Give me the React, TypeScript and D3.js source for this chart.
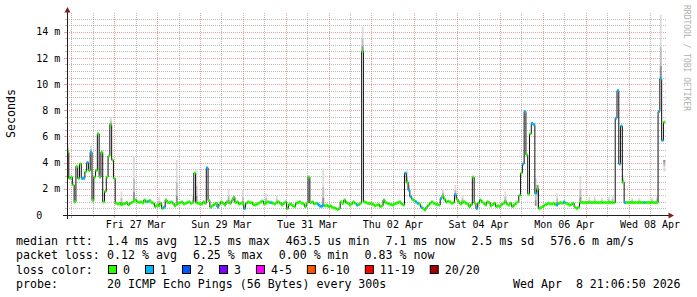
import React from "react";
import * as d3 from "d3";

// ---------- data ----------
const START = Date.UTC(2026, 2, 25, 21, 30);
const END = Date.UTC(2026, 3, 8, 21, 30);
const HOUR = 3600 * 1000;

// hourly median RTT in ms (one line per day, starting Mar 25 21:30)
const medianMs: (number | null)[] = [
  4.8, 2.8, 2.9, 2.3, 1.0, 3.7, 2.8, 3.9, 2.8, 2.8, 3.3, 4.0, 3.4, 4.8, 1.1, 2.9, 3.4, 6.2, 2.9, 4.8, 1.0, 1.8, 2.9, 4.5,
  6.9, 4.2, 2.8, 0.9, 0.84, 0.9, 0.78, 0.85, 0.88, 0.95, 0.78, 0.9, 0.97, 1.05, 1.15, 1.0, 0.95, 1.0, 0.92, 1.15, 1.0, 1.05, 1.1, 0.95,
  0.9, 0.64, 0.75, 0.7, 0.9, 0.5, 0.6, 1.15, 0.95, 0.95, 1.0, 0.9, 0.7, 0.8, 0.9, 0.95, 1.0, 0.85, 0.9, 0.95, 1.0, 0.9, 0.97, 3.2,
  0.95, 0.9, 0.85, 0.84, 1.0, 0.9, 3.6, 1.1, 0.6, 0.7, 0.8, 0.9, 0.6, 0.84, 1.0, 0.9, 0.76, 1.0, 0.95, 0.9, 1.1, 1.35, 0.95, 1.0,
  0.84, 0.9, 0.85, 0.5, 0.9, 1.0, 0.95, 0.94, 0.8, 0.76, 0.85, 0.9, 1.0, 1.07, 0.84, 0.9, 1.0, 0.95, 0.94, 0.9, 0.84, 0.95, 1.0, 0.9,
  0.76, 0.9, 1.0, 0.5, 0.8, 0.84, 0.7, 0.64, 0.9, 0.95, 1.0, 0.9, 0.84, 0.64, 0.9, 2.9, 0.95, 1.0, 0.85, 0.9, 0.84, 0.7, 0.64, 0.75,
  0.7, 0.75, 0.64, 0.7, 0.6, 0.55, 0.5, 0.43, 0.5, 1.0, 0.9, 1.15, 0.95, 0.9, 0.76, 0.85, 1.0, 0.9, 0.76, 0.8, 0.9, 12.5, 1.0, 0.95,
  0.9, 0.85, 0.9, 0.8, 0.7, 0.76, 0.8, 0.64, 0.7, 1.15, 0.94, 0.9, 0.84, 0.8, 0.76, 0.85, 0.9, 0.95, 1.0, 0.85, 0.76, 3.2, 2.5, 1.9,
  1.4, 1.2, 1.1, 1.0, 0.9, 0.84, 0.6, 0.5, 0.38, 0.6, 0.76, 0.9, 1.0, 0.9, 0.84, 0.8, 0.76, 1.27, 1.45, 1.2, 1.0, 1.05, 1.0, 0.9,
  0.95, 1.53, 1.2, 1.0, 0.84, 0.95, 1.0, 0.9, 0.85, 0.64, 0.8, 2.9, 0.9, 0.5, 0.9, 1.15, 1.0, 0.9, 0.76, 1.0, 0.95, 0.7, 0.8, 0.9,
  0.64, 0.7, 0.64, 0.8, 0.9, 1.0, 0.85, 0.76, 0.9, 0.64, 0.76, 0.9, 1.0, 1.5, 3.2, 3.9, 7.9, 4.6, 1.6, 6.2, 7.0, 6.9, 1.65, 2.0,
  0.5, 0.55, 0.64, 0.76, 0.8, 0.9, 0.85, 0.84, 0.9, 0.8, 0.76, 0.9, 0.94, 0.9, 1.0, 0.9, 0.85, 0.76, 0.8, 0.9, 0.6, 0.5, 0.6, 0.94,
  0.95, 0.95, 0.95, 0.95, 0.95, 0.95, 0.95, 0.95, 0.95, 0.95, 0.95, 0.95, 0.95, 0.95, 0.95, 0.95, 0.95, 0.95, 0.95, 7.4, 9.5, 3.9, 6.8, 2.5,
  0.95, 0.95, 0.95, 0.95, 0.95, 0.95, 0.95, 0.95, 0.95, 0.95, 0.95, 0.95, 0.95, 0.95, 0.95, 0.95, 0.95, 0.95, 0.95, 7.9, 10.4, 5.7, 7.1, null,
];

// hours in which 1 of 20 pings was lost
const lossOneHours = [
  8, 9, 11, 13, 45, 54, 78, 84, 99, 114, 140, 141, 142, 143, 162, 189, 191, 192, 195, 196, 198, 209,
  217, 229, 255, 256, 260, 261, 262, 274, 278, 307, 308, 309, 310, 312, 323, 331, 332, 333,
];

// smoke (ping spread) extents: [hour, low ms, high ms]
const smokeSpread: [number, number, number][] = [
  [0, 4.8, 5.4], [13, 4.8, 5.3], [24, 6.9, 7.5], [30, 0.78, 1.8], [37, 1.05, 4.5], [51, 0.7, 1.4],
  [61, 0.8, 4.2], [70, 0.9, 1.45], [72, 0.95, 3.5], [90, 0.95, 2.0], [98, 0.85, 1.9], [111, 0.9, 1.65],
  [117, 0.95, 1.5], [143, 0.75, 3.55], [165, 12.5, 14.4], [190, 2.5, 3.4], [191, 1.9, 2.6], [210, 1.45, 2.0],
  [217, 1.53, 2.3], [221, 1.0, 1.5], [245, 1.0, 1.8], [262, 0.7, 2.8], [263, 0.5, 2.3], [274, 0.8, 1.65],
  [287, 0.94, 3.0], [292, 0.95, 1.35], [295, 0.95, 1.4], [299, 0.95, 1.3], [303, 0.95, 1.4], [305, 0.95, 1.5],
  [311, 2.5, 3.0], [316, 0.95, 1.3], [320, 0.95, 1.3], [327, 0.95, 1.35], [330, 0.95, 1.5], [332, 10.4, 15.3],
  [334, 3.3, 4.2],
];

const yTickValues = [0, 2, 4, 6, 8, 10, 12, 14];
const yTickLabels = ["0", "2 m", "4 m", "6 m", "8 m", "10 m", "12 m", "14 m"];
const xLabelDays = ["2026-03-27", "2026-03-29", "2026-03-31", "2026-04-02", "2026-04-04", "2026-04-06", "2026-04-08"];

const rttStats = ["1.4 ms avg", "12.5 ms max", "463.5 us min", "7.1 ms now", "2.5 ms sd", "576.6 m am/s"];
const lossStats = ["0.12 % avg", "6.25 % max", "0.00 % min", "0.83 % now"];
const lossColorLabels = ["0", "1", "2", "3", "4-5", "6-10", "11-19", "20/20"];
const lossColorValues = ["#26ff00", "#00b8ff", "#0059ff", "#7e00ff", "#ff00ff", "#ff5500", "#ff0000", "#a00000"];
const probeText = "20 ICMP Echo Pings (56 Bytes) every 300s";
const stampText = "Wed Apr  8 21:06:50 2026";

// ---------- layout ----------
const W = 697;
const H = 297;
const X0 = 67;
const X1 = 667;
const YB = 215;
const YT = 13;
const Y_MAX = 15.43;
const MONO = "'DejaVu Sans Mono', monospace";
const LEG_FS = 11.6;
const CH = LEG_FS * 0.602;

export default function App() {
  const x = d3.scaleUtc().domain([new Date(START), new Date(END)]).range([X0, X1]);
  const y = d3.scaleLinear().domain([0, Y_MAX]).range([YB, YT]);
  const hd = (i: number) => new Date(START + i * HOUR);
  const lossSet = new Set(lossOneHours);

  // step line points
  const lineData: { t: Date; v: number | null }[] = [];
  medianMs.forEach((v, i) => {
    lineData.push({ t: hd(i), v });
    if (v != null && (i === medianMs.length - 1 || medianMs[i + 1] == null)) lineData.push({ t: hd(i + 1), v });
  });
  const line = d3
    .line<{ t: Date; v: number | null }>()
    .defined((d) => d.v != null)
    .x((d) => x(d.t))
    .y((d) => y(d.v as number))
    .curve(d3.curveStepAfter);

  const crisp = (v: number) => Math.round(v) + 0.5;

  const hGrid = d3.range(0.5, Y_MAX, 0.5);
  const vGrid = d3.utcHour.every(12)!.range(new Date(START), new Date(END));

  const gridMinor = "rgba(143,143,143,0.6)";
  const gridMajor = "rgba(222,79,79,0.55)";

  // legend positions
  const itemXs = (items: string[], start: number) => {
    const xs: number[] = [];
    let cx = start;
    items.forEach((s) => {
      xs.push(cx);
      cx += s.length * CH + 16;
    });
    return xs;
  };
  const rttXs = itemXs(rttStats, 107.1);
  const lossXs = itemXs(lossStats, 107.1);
  const sqXs: number[] = [];
  {
    let cx = 108;
    lossColorLabels.forEach((s) => {
      sqXs.push(cx);
      cx += 15 + s.length * CH + 15;
    });
  }

  const rows = [245, 259.3, 273.5, 287.7];
  const fmt = d3.utcFormat("%a %d %b");

  return (
    <svg
      width={W}
      height={H}
      style={{ position: "absolute", left: 0, top: 0, display: "block", background: "#fff" }}
      fontFamily={MONO}
    >
      <rect x={0} y={0} width={W} height={H} fill="#ffffff" />

      {/* grid */}
      <g shapeRendering="crispEdges" strokeWidth={1} strokeDasharray="1,1">
        {hGrid
          .filter((v) => v % 2 !== 0)
          .map((v) => (
            <line key={"hm" + v} x1={X0} x2={X1} y1={crisp(y(v))} y2={crisp(y(v))} stroke={gridMinor} />
          ))}
        {vGrid
          .filter((d) => d.getUTCHours() !== 0)
          .map((d) => (
            <line key={"vm" + d.getTime()} x1={crisp(x(d))} x2={crisp(x(d))} y1={YT} y2={YB} stroke={gridMinor} />
          ))}
        {hGrid
          .filter((v) => v % 2 === 0)
          .map((v) => (
            <line key={"hM" + v} x1={X0} x2={X1} y1={crisp(y(v))} y2={crisp(y(v))} stroke={gridMajor} />
          ))}
        {vGrid
          .filter((d) => d.getUTCHours() === 0)
          .map((d) => (
            <line key={"vM" + d.getTime()} x1={crisp(x(d))} x2={crisp(x(d))} y1={YT} y2={YB} stroke={gridMajor} />
          ))}
      </g>
      {/* ticks */}
      <g shapeRendering="crispEdges" strokeWidth={1}>
        {hGrid.map((v) => (
          <line
            key={"yt" + v}
            x1={X0 - (v % 2 === 0 ? 3 : 2)}
            x2={X0}
            y1={crisp(y(v))}
            y2={crisp(y(v))}
            stroke={v % 2 === 0 ? gridMajor : gridMinor}
          />
        ))}
        {vGrid.map((d) => (
          <line
            key={"xt" + d.getTime()}
            x1={crisp(x(d))}
            x2={crisp(x(d))}
            y1={YB}
            y2={YB + (d.getUTCHours() === 0 ? 3 : 2)}
            stroke={d.getUTCHours() === 0 ? gridMajor : gridMinor}
          />
        ))}
      </g>

      {/* smoke */}
      <g>
        {smokeSpread.map(([h, lo, hi]) => {
          const m = medianMs[h] as number;
          const x0 = x(hd(h));
          const w = x(hd(h + 1)) - x0;
          const span = hi - lo;
          const nearLow = m <= lo + span / 2;
          const bands = [
            { f: 1.0, c: "#dcdcdc" },
            { f: 0.5, c: "#bdbdbd" },
            { f: 0.2, c: "#909090" },
          ];
          return (
            <g key={"s" + h}>
              {bands.map((b, k) => {
                const a = nearLow ? lo : hi - span * b.f;
                const bb = nearLow ? lo + span * b.f : hi;
                return <rect key={k} x={x0} width={w} y={y(bb)} height={y(a) - y(bb)} fill={b.c} />;
              })}
            </g>
          );
        })}
      </g>

      {/* median line */}
      <path d={line(lineData) || ""} fill="none" stroke="#111" strokeWidth={1} />

      {/* loss-coloured median markers */}
      <g>
        {medianMs.map((v, i) =>
          v == null ? null : (
            <rect
              key={"m" + i}
              x={x(hd(i))}
              width={x(hd(i + 1)) - x(hd(i))}
              y={y(v) - 1.5}
              height={3}
              fill={lossColorValues[lossSet.has(i) ? 1 : 0]}
            />
          )
        )}
      </g>

      {/* axes */}
      <g shapeRendering="crispEdges" stroke="#1f1f1f" strokeWidth={1}>
        <line x1={X0 - 4} x2={X1 + 3} y1={YB + 0.5} y2={YB + 0.5} />
        <line x1={X0 + 0.5} x2={X0 + 0.5} y1={YB + 4} y2={10} />
      </g>
      <path d={`M${X0 - 2.5},12.5 L${X0 + 3.5},12.5 L${X0 + 0.5},7 Z`} fill="#801f1f" />
      <path d={`M${X1 + 1.5},${YB - 2.5} L${X1 + 1.5},${YB + 3.5} L${X1 + 7},${YB + 0.5} Z`} fill="#801f1f" />

      {/* y labels */}
      <g fontSize={10} fill="#000">
        {yTickValues.map((v, i) => (
          <text key={"yl" + v} x={v === 0 ? 42.2 : 60.4} y={y(v) + 3.6} textAnchor="end">
            {yTickLabels[i]}
          </text>
        ))}
      </g>
      {/* x labels */}
      <g fontSize={10} fill="#000">
        {xLabelDays.map((s) => {
          const d = new Date(s + "T12:00:00Z");
          return (
            <text key={s} x={x(d)} y={228} textAnchor="middle">
              {fmt(d)}
            </text>
          );
        })}
      </g>

      <text
        transform="translate(15,113.5) rotate(-90)"
        textAnchor="middle"
        fontSize={LEG_FS}
        fill="#000"
      >
        Seconds
      </text>
      <text transform="translate(683.5,5) rotate(90)" fontSize={8} fill="#b0b0b0">
        RRDTOOL / TOBI OETIKER
      </text>

      {/* legend */}
      <g fontSize={LEG_FS} fill="#000" style={{ whiteSpace: "pre" }}>
        <text x={16} y={rows[0]}>median rtt:</text>
        {rttStats.map((s, i) => (
          <text key={"r" + i} x={rttXs[i]} y={rows[0]}>
            {s}
          </text>
        ))}
        <text x={16} y={rows[1]}>packet loss:</text>
        {lossStats.map((s, i) => (
          <text key={"l" + i} x={lossXs[i]} y={rows[1]}>
            {s}
          </text>
        ))}
        <text x={16} y={rows[2]}>loss color:</text>
        {lossColorLabels.map((s, i) => (
          <g key={"c" + i}>
            <rect x={sqXs[i] + 0.5} y={265.5} width={8} height={8} fill={lossColorValues[i]} stroke="#000" strokeWidth={1} />
            <text x={sqXs[i] + 15} y={rows[2]}>
              {s}
            </text>
          </g>
        ))}
        <text x={16} y={rows[3]}>probe:</text>
        <text x={107.1} y={rows[3]}>{probeText}</text>
        <text x={680.6} y={rows[3]} textAnchor="end" xmlSpace="preserve">
          {stampText}
        </text>
      </g>
    </svg>
  );
}
